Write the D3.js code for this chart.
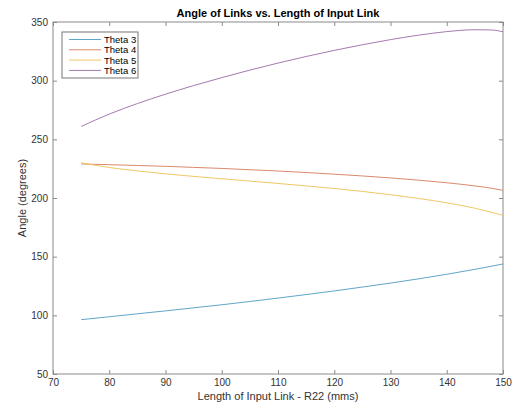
<!DOCTYPE html>
<html>
<head>
    <meta charset="utf-8">
    <title>Angle of Links vs. Length of Input Link</title>
    <script src="https://cdn.jsdelivr.net/npm/d3@7"></script>
    <style>
        body { margin: 0; background: #fff; }
        text { font-family: "Liberation Sans", Arial, sans-serif; }
    </style>
</head>
<body>
<script>
// data
var lengths = [75, 80, 85, 90, 95, 100, 105, 110, 115, 120, 125, 130, 135, 140, 145, 148, 150];
var theta3 = [96.3, 98.8, 101.3, 103.8, 106.4, 109.0, 111.8, 114.7, 117.7, 120.8, 124.1, 127.5, 131.1, 135.0, 139.2, 141.9, 143.8];
var theta4 = [229, 228.4, 227.7, 227.0, 226.1, 225.2, 224.1, 223.0, 221.7, 220.3, 218.8, 217.1, 215.2, 213.0, 210.3, 208.3, 206.5];
var theta5 = [230, 226.0, 223.1, 220.6, 218.4, 216.4, 214.4, 212.4, 210.3, 208.1, 205.6, 202.8, 199.6, 195.9, 191.3, 187.8, 185.2];
var theta6 = [261, 271.5, 280.5, 288.5, 295.8, 302.6, 309.0, 315.0, 320.6, 325.8, 330.6, 335.0, 338.8, 341.8, 343.4, 343.2, 341.6];
var seriesNames = ["Theta 3", "Theta 4", "Theta 5", "Theta 6"];
var seriesColors = ["#5fa5c9", "#d98a6a", "#f0c865", "#a47aae"];
var xTicks = [70, 80, 90, 100, 110, 120, 130, 140, 150];
var yTicks = [50, 100, 150, 200, 250, 300, 350];

var w = 514, h = 404;
// plot area edges (not "top", that name is taken by window.top)
var pLeft = 53, pRight = 503, pTop = 22, pBottom = 374;

var svg = d3.select("body").append("svg")
    .attr("width", w)
    .attr("height", h);

var x = d3.scaleLinear().domain([70, 150]).range([pLeft, pRight]);
var y = d3.scaleLinear().domain([50, 350]).range([pBottom, pTop]);

var axisColor = "#8a8a8a";
var textColor = "#333";

// ticks on all four sides, pointing in
function styleAxis(g) {
    g.select(".domain").remove();
    g.selectAll(".tick line").attr("stroke", axisColor);
    g.selectAll(".tick text").attr("fill", textColor).attr("font-size", "10px")
        .attr("font-family", "Liberation Sans, Arial, sans-serif");
}
svg.append("g").attr("transform", "translate(0," + pBottom + ")")
    .call(d3.axisBottom(x).tickValues(xTicks).tickSizeInner(-4).tickPadding(5))
    .call(styleAxis);
svg.append("g").attr("transform", "translate(0," + pTop + ")")
    .call(d3.axisTop(x).tickValues(xTicks).tickSizeInner(-4).tickFormat(""))
    .call(styleAxis);
svg.append("g").attr("transform", "translate(" + pLeft + ",0)")
    .call(d3.axisLeft(y).tickValues(yTicks).tickSizeInner(-4).tickPadding(5))
    .call(styleAxis);
svg.append("g").attr("transform", "translate(" + pRight + ",0)")
    .call(d3.axisRight(y).tickValues(yTicks).tickSizeInner(-4).tickFormat(""))
    .call(styleAxis);

// box
svg.append("rect")
    .attr("x", pLeft).attr("y", pTop)
    .attr("width", pRight - pLeft).attr("height", pBottom - pTop)
    .attr("fill", "none")
    .attr("stroke", axisColor)
    .attr("stroke-width", 1);

// lines
var series = [theta3, theta4, theta5, theta6];
var line = d3.line()
    .x(function(d, i) { return x(lengths[i]); })
    .y(function(d) { return y(d); })
    .curve(d3.curveMonotoneX);
svg.selectAll("path.series")
    .data(series)
    .enter()
    .append("path")
    .attr("class", "series")
    .attr("d", line)
    .attr("fill", "none")
    .attr("stroke", function(d, i) { return seriesColors[i]; })
    .attr("stroke-width", 1);

// title and labels
svg.append("text")
    .text("Angle of Links vs. Length of Input Link")
    .attr("x", (pLeft + pRight) / 2)
    .attr("y", 17)
    .attr("text-anchor", "middle")
    .attr("font-size", "11px")
    .attr("font-weight", "bold")
    .attr("fill", "#000");
svg.append("text")
    .text("Length of Input Link - R22 (mms)")
    .attr("x", (pLeft + pRight) / 2)
    .attr("y", 400)
    .attr("text-anchor", "middle")
    .attr("font-size", "11px")
    .attr("fill", textColor);
svg.append("text")
    .text("Angle (degrees)")
    .attr("transform", "translate(26," + (pTop + pBottom) / 2 + ") rotate(-90)")
    .attr("text-anchor", "middle")
    .attr("font-size", "11px")
    .attr("fill", textColor);

// legend
var legend = svg.append("g");
legend.append("rect")
    .attr("x", 62).attr("y", 32)
    .attr("width", 76).attr("height", 46)
    .attr("fill", "#fff")
    .attr("stroke", "#777")
    .attr("stroke-width", 1);
var items = legend.selectAll("g.item")
    .data(seriesNames)
    .enter()
    .append("g")
    .attr("class", "item")
    .attr("transform", function(d, i) { return "translate(0," + (39.5 + i * 10.3) + ")"; });
items.append("line")
    .attr("x1", 69).attr("x2", 101)
    .attr("y1", 0).attr("y2", 0)
    .attr("stroke", function(d, i) { return seriesColors[i]; })
    .attr("stroke-width", 1);
items.append("text")
    .text(function(d) { return d; })
    .attr("x", 104)
    .attr("y", 3.5)
    .attr("font-size", "9.5px")
    .attr("fill", "#000");
</script>
</body>
</html>
